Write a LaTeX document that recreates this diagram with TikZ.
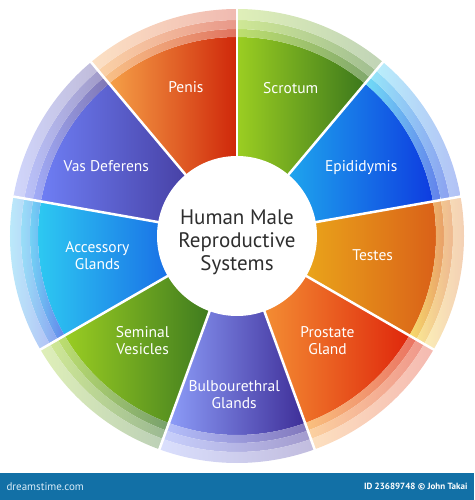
\documentclass[tikz,border=0pt]{standalone}
\usepackage{fontspec}
\setmainfont{PT Sans}
\usetikzlibrary{calc}

\definecolor{penisL}{HTML}{F5A047}
\definecolor{penisR}{HTML}{CF270A}
\definecolor{scrotL}{HTML}{9BCE22}
\definecolor{scrotR}{HTML}{3C781C}
\definecolor{epiL}{HTML}{24CAF2}
\definecolor{epiR}{HTML}{0E3CE0}
\definecolor{testL}{HTML}{F2C81C}
\definecolor{testR}{HTML}{D95E18}
\definecolor{prosL}{HTML}{F7A03A}
\definecolor{prosR}{HTML}{DF270C}
\definecolor{bulbL}{HTML}{8C9CF8}
\definecolor{bulbR}{HTML}{3E2E98}
\definecolor{semL}{HTML}{9ACD22}
\definecolor{semR}{HTML}{2E6C1E}
\definecolor{accL}{HTML}{2ECCF2}
\definecolor{accR}{HTML}{0F42E0}
\definecolor{vasL}{HTML}{6E7EF4}
\definecolor{vasR}{HTML}{3A2C8A}
\definecolor{hubtext}{HTML}{2E2E2E}
\definecolor{barblue}{HTML}{1270A6}
\definecolor{sitetext}{HTML}{D8ECF8}

\tikzset{
	part/.style={text=white, align=center, font=\fontsize{15.5}{17}\selectfont},
	hub/.style={circle, fill=white, minimum size=160pt, inner sep=0pt},
	title/.style={text=hubtext, align=center, font=\fontsize{21}{23}\selectfont},
}

\begin{document}
\begin{tikzpicture}
	\useasboundingbox (-237pt,-264pt) rectangle (237pt,236pt);
	\foreach \a/\lc/\rc in {10/epiL/epiR,50/scrotL/scrotR,90/penisL/penisR,130/vasL/vasR,170/accL/accR,210/semL/semR,250/bulbL/bulbR,290/prosL/prosR,330/testL/testR} {
		\shade[left color=\lc, right color=\rc] (0,0) -- (\a:199pt) arc[start angle=\a, end angle=\a+40, radius=199pt] -- cycle;
		\foreach \r/\R/\m in {199pt/207pt/65,207pt/216pt/48,216pt/227pt/32} {
			\shade[left color=\lc!\m!white, right color=\rc!\m!white] (\a:\r) arc[start angle=\a, end angle=\a+40, radius=\r] -- (\a+40:\R) arc[start angle=\a+40, end angle=\a, radius=\R] -- cycle;
		}
	}
	\foreach \a in {10,50,...,330} {
		\draw[white, line width=2.5pt] (0,0) -- (\a:229pt);
	}
	\node[hub] (hub) at (0,0) {};
	\node[title] (name) at (0,-6pt) {Human Male\\Reproductive\\Systems};
	\foreach \ang/\rad/\txt [count=\i] in {109/157/Penis,70/157/Scrotum,29/142/Epididymis,-8/137/Testes,-49/138/{Prostate\\Gland},-91/159/{Bulbourethral\\Glands},-132/141/{Seminal\\Vesicles},-172/141/{Accessory\\Glands},152/148/{Vas Deferens}} {
		\node[part] (p\i) at (\ang:\rad pt) {\txt};
	}
	\fill[barblue] (-237pt,-237pt) rectangle (237pt,-264pt);
	\node[anchor=west, text=sitetext, font=\fontsize{11}{13}\selectfont] (site) at (-234pt,-250.5pt) {dreamstime.com};
	\node[anchor=east, text=white, font=\bfseries\fontsize{9}{11}\selectfont] (credit) at (234pt,-250.5pt) {ID 23689748 © John Takai};
\end{tikzpicture}
\end{document}
